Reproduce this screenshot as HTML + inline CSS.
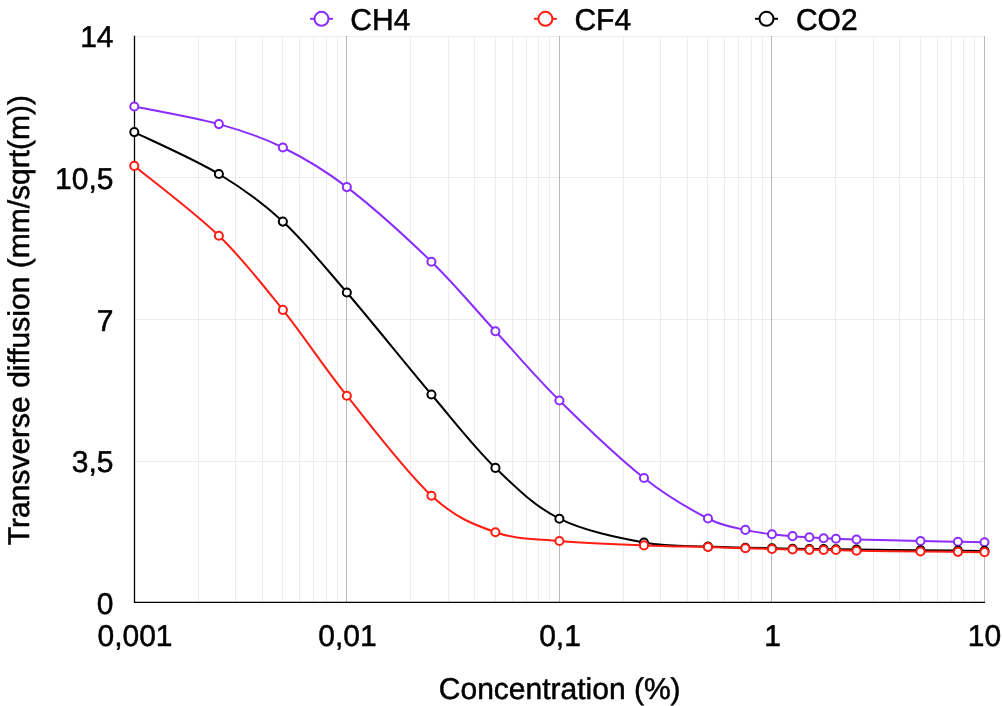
<!DOCTYPE html>
<html lang="en"><head><meta charset="utf-8"><title>Transverse diffusion vs concentration</title>
<style>html,body{margin:0;padding:0;background:#fff;}body{width:1002px;height:706px;overflow:hidden;}svg{display:block;will-change:transform;}text{font-family:"Liberation Sans",Arial,Helvetica,sans-serif;font-size:30px;fill:#000;stroke:#000;stroke-width:0.5px;text-rendering:geometricPrecision;}</style>
</head><body>
<svg width="1002" height="706" viewBox="0 0 1002 706">
<rect width="1002" height="706" fill="#fff"/>
<g shape-rendering="crispEdges">
<rect x="136" y="36" width="849" height="1" fill="#ececec"/>
<rect x="136" y="177" width="849" height="1" fill="#ececec"/>
<rect x="136" y="319" width="849" height="1" fill="#ececec"/>
<rect x="136" y="461" width="849" height="1" fill="#ececec"/>
<rect x="198" y="36" width="1" height="566" fill="#ececec"/>
<rect x="235" y="36" width="1" height="566" fill="#ececec"/>
<rect x="262" y="36" width="1" height="566" fill="#ececec"/>
<rect x="282" y="36" width="1" height="566" fill="#ececec"/>
<rect x="299" y="36" width="1" height="566" fill="#ececec"/>
<rect x="313" y="36" width="1" height="566" fill="#ececec"/>
<rect x="326" y="36" width="1" height="566" fill="#ececec"/>
<rect x="337" y="36" width="1" height="566" fill="#ececec"/>
<rect x="410" y="36" width="1" height="566" fill="#ececec"/>
<rect x="448" y="36" width="1" height="566" fill="#ececec"/>
<rect x="474" y="36" width="1" height="566" fill="#ececec"/>
<rect x="495" y="36" width="1" height="566" fill="#ececec"/>
<rect x="512" y="36" width="1" height="566" fill="#ececec"/>
<rect x="526" y="36" width="1" height="566" fill="#ececec"/>
<rect x="538" y="36" width="1" height="566" fill="#ececec"/>
<rect x="549" y="36" width="1" height="566" fill="#ececec"/>
<rect x="623" y="36" width="1" height="566" fill="#ececec"/>
<rect x="660" y="36" width="1" height="566" fill="#ececec"/>
<rect x="687" y="36" width="1" height="566" fill="#ececec"/>
<rect x="707" y="36" width="1" height="566" fill="#ececec"/>
<rect x="724" y="36" width="1" height="566" fill="#ececec"/>
<rect x="738" y="36" width="1" height="566" fill="#ececec"/>
<rect x="751" y="36" width="1" height="566" fill="#ececec"/>
<rect x="762" y="36" width="1" height="566" fill="#ececec"/>
<rect x="835" y="36" width="1" height="566" fill="#ececec"/>
<rect x="873" y="36" width="1" height="566" fill="#ececec"/>
<rect x="899" y="36" width="1" height="566" fill="#ececec"/>
<rect x="920" y="36" width="1" height="566" fill="#ececec"/>
<rect x="937" y="36" width="1" height="566" fill="#ececec"/>
<rect x="951" y="36" width="1" height="566" fill="#ececec"/>
<rect x="963" y="36" width="1" height="566" fill="#ececec"/>
<rect x="974" y="36" width="1" height="566" fill="#ececec"/>
<rect x="346" y="36" width="1" height="566" fill="#bababa"/>
<rect x="559" y="36" width="1" height="566" fill="#bababa"/>
<rect x="771" y="36" width="1" height="566" fill="#bababa"/>
<rect x="984" y="36" width="1" height="566" fill="#bababa"/>
</g>
<path d="M134.5,35.8 V602.35 H985" fill="none" stroke="#000" stroke-width="1.3" stroke-linejoin="miter"/>
<path d="M134.30,106.45 C148.40,109.39 194.12,117.26 218.88,124.10 C243.64,130.94 261.54,137.00 282.87,147.50 C304.19,158.00 322.09,168.07 346.85,187.10 C371.61,206.13 406.67,237.68 431.43,261.70 C456.19,285.72 474.09,308.07 495.42,331.20 C516.74,354.33 534.64,376.02 559.40,400.50 C584.16,424.98 619.22,458.38 643.98,478.05 C668.74,497.72 691.06,509.86 707.97,518.50 C724.87,527.14 734.73,527.27 745.39,529.90 C756.06,532.52 764.09,533.21 771.95,534.25 C779.81,535.29 786.31,535.64 792.55,536.15 C798.79,536.66 804.20,536.96 809.38,537.30 C814.55,537.64 819.18,537.97 823.61,538.20 C828.03,538.43 830.45,538.48 835.93,538.70 C841.42,538.92 842.44,539.12 856.53,539.50 C870.63,539.88 903.61,540.62 920.52,541.00 C937.42,541.38 947.28,541.60 957.94,541.80 C968.61,542.00 980.07,542.13 984.50,542.20" fill="none" stroke="#8b2cff" stroke-width="2" stroke-linejoin="round" stroke-linecap="round"/>
<g fill="#fff" stroke="#8b2cff" stroke-width="2">
<circle cx="134.30" cy="106.45" r="4.05"/>
<circle cx="218.88" cy="124.10" r="4.05"/>
<circle cx="282.87" cy="147.50" r="4.05"/>
<circle cx="346.85" cy="187.10" r="4.05"/>
<circle cx="431.43" cy="261.70" r="4.05"/>
<circle cx="495.42" cy="331.20" r="4.05"/>
<circle cx="559.40" cy="400.50" r="4.05"/>
<circle cx="643.98" cy="478.05" r="4.05"/>
<circle cx="707.97" cy="518.50" r="4.05"/>
<circle cx="745.39" cy="529.90" r="4.05"/>
<circle cx="771.95" cy="534.25" r="4.05"/>
<circle cx="792.55" cy="536.15" r="4.05"/>
<circle cx="809.38" cy="537.30" r="4.05"/>
<circle cx="823.61" cy="538.20" r="4.05"/>
<circle cx="835.93" cy="538.70" r="4.05"/>
<circle cx="856.53" cy="539.50" r="4.05"/>
<circle cx="920.52" cy="541.00" r="4.05"/>
<circle cx="957.94" cy="541.80" r="4.05"/>
<circle cx="984.50" cy="542.20" r="4.05"/>
</g>
<path d="M134.30,132.10 C148.40,139.08 194.12,159.08 218.88,174.00 C243.64,188.92 261.54,201.85 282.87,221.60 C304.19,241.35 322.09,263.68 346.85,292.50 C371.61,321.32 406.67,365.27 431.43,394.50 C456.19,423.73 474.09,447.20 495.42,467.90 C516.74,488.60 534.64,506.25 559.40,518.70 C584.16,531.15 619.22,537.95 643.98,542.60 C668.74,547.25 691.06,545.75 707.97,546.60 C724.87,547.45 734.73,547.42 745.39,547.70 C756.06,547.98 764.09,548.13 771.95,548.30 C779.81,548.47 786.31,548.58 792.55,548.70 C798.79,548.82 804.20,548.93 809.38,549.00 C814.55,549.07 819.18,549.07 823.61,549.10 C828.03,549.13 830.45,549.13 835.93,549.20 C841.42,549.27 842.44,549.32 856.53,549.50 C870.63,549.68 903.61,550.12 920.52,550.30 C937.42,550.48 947.28,550.50 957.94,550.60 C968.61,550.70 980.07,550.85 984.50,550.90" fill="none" stroke="#000000" stroke-width="2" stroke-linejoin="round" stroke-linecap="round"/>
<g fill="#fff" stroke="#000000" stroke-width="2">
<circle cx="134.30" cy="132.10" r="4.05"/>
<circle cx="218.88" cy="174.00" r="4.05"/>
<circle cx="282.87" cy="221.60" r="4.05"/>
<circle cx="346.85" cy="292.50" r="4.05"/>
<circle cx="431.43" cy="394.50" r="4.05"/>
<circle cx="495.42" cy="467.90" r="4.05"/>
<circle cx="559.40" cy="518.70" r="4.05"/>
<circle cx="643.98" cy="542.60" r="4.05"/>
<circle cx="707.97" cy="546.60" r="4.05"/>
<circle cx="745.39" cy="547.70" r="4.05"/>
<circle cx="771.95" cy="548.30" r="4.05"/>
<circle cx="792.55" cy="548.70" r="4.05"/>
<circle cx="809.38" cy="549.00" r="4.05"/>
<circle cx="823.61" cy="549.10" r="4.05"/>
<circle cx="835.93" cy="549.20" r="4.05"/>
<circle cx="856.53" cy="549.50" r="4.05"/>
<circle cx="920.52" cy="550.30" r="4.05"/>
<circle cx="957.94" cy="550.60" r="4.05"/>
<circle cx="984.50" cy="550.90" r="4.05"/>
</g>
<path d="M134.30,165.90 C148.40,177.55 194.12,211.80 218.88,235.80 C243.64,259.80 261.54,283.25 282.87,309.90 C304.19,336.55 322.09,364.73 346.85,395.70 C371.61,426.67 406.67,472.95 431.43,495.70 C456.19,518.45 474.09,524.65 495.42,532.20 C516.74,539.75 534.64,538.80 559.40,541.00 C584.16,543.20 619.22,544.41 643.98,545.40 C668.74,546.39 691.06,546.48 707.97,546.95 C724.87,547.43 734.73,547.90 745.39,548.25 C756.06,548.60 764.09,548.83 771.95,549.05 C779.81,549.27 786.31,549.42 792.55,549.55 C798.79,549.68 804.20,549.77 809.38,549.85 C814.55,549.93 819.18,550.02 823.61,550.05 C828.03,550.08 830.45,549.93 835.93,550.05 C841.42,550.17 842.44,550.50 856.53,550.75 C870.63,551.00 903.61,551.37 920.52,551.55 C937.42,551.73 947.28,551.75 957.94,551.85 C968.61,551.95 980.07,552.10 984.50,552.15" fill="none" stroke="#ff1d12" stroke-width="2" stroke-linejoin="round" stroke-linecap="round"/>
<g fill="#fff" stroke="#ff1d12" stroke-width="2">
<circle cx="134.30" cy="165.90" r="4.05"/>
<circle cx="218.88" cy="235.80" r="4.05"/>
<circle cx="282.87" cy="309.90" r="4.05"/>
<circle cx="346.85" cy="395.70" r="4.05"/>
<circle cx="431.43" cy="495.70" r="4.05"/>
<circle cx="495.42" cy="532.20" r="4.05"/>
<circle cx="559.40" cy="541.00" r="4.05"/>
<circle cx="643.98" cy="545.40" r="4.05"/>
<circle cx="707.97" cy="546.95" r="4.05"/>
<circle cx="745.39" cy="548.25" r="4.05"/>
<circle cx="771.95" cy="549.05" r="4.05"/>
<circle cx="792.55" cy="549.55" r="4.05"/>
<circle cx="809.38" cy="549.85" r="4.05"/>
<circle cx="823.61" cy="550.05" r="4.05"/>
<circle cx="835.93" cy="550.05" r="4.05"/>
<circle cx="856.53" cy="550.75" r="4.05"/>
<circle cx="920.52" cy="551.55" r="4.05"/>
<circle cx="957.94" cy="551.85" r="4.05"/>
<circle cx="984.50" cy="552.15" r="4.05"/>
</g>
<path d="M310.0,18.8 H333.0" stroke="#8b2cff" stroke-width="2" fill="none"/>
<circle cx="321.5" cy="18.8" r="7" fill="#fff" stroke="#8b2cff" stroke-width="2"/>
<text transform="translate(350.30,29.80) scale(1.0000,1)" text-anchor="start">CH4</text>
<path d="M533.9,18.8 H556.9" stroke="#ff1d12" stroke-width="2" fill="none"/>
<circle cx="545.4" cy="18.8" r="7" fill="#fff" stroke="#ff1d12" stroke-width="2"/>
<text transform="translate(574.40,29.80) scale(1.0000,1)" text-anchor="start">CF4</text>
<path d="M755.0,18.8 H778.0" stroke="#000000" stroke-width="2" fill="none"/>
<circle cx="766.5" cy="18.8" r="7" fill="#fff" stroke="#000000" stroke-width="2"/>
<text transform="translate(795.90,29.80) scale(1.0000,1)" text-anchor="start">CO2</text>
<text transform="translate(113.50,46.70) scale(1.0000,1)" text-anchor="end">14</text>
<text transform="translate(113.50,188.80) scale(1.0000,1)" text-anchor="end">10,5</text>
<text transform="translate(113.50,330.60) scale(1.0000,1)" text-anchor="end">7</text>
<text transform="translate(113.50,472.30) scale(1.0000,1)" text-anchor="end">3,5</text>
<text transform="translate(113.50,613.60) scale(1.0000,1)" text-anchor="end">0</text>
<text transform="translate(135.00,645.60) scale(1.0000,1)" text-anchor="middle">0,001</text>
<text transform="translate(347.50,645.60) scale(1.0000,1)" text-anchor="middle">0,01</text>
<text transform="translate(560.00,645.60) scale(1.0000,1)" text-anchor="middle">0,1</text>
<text transform="translate(772.60,645.60) scale(1.0000,1)" text-anchor="middle">1</text>
<text transform="translate(984.50,645.60) scale(1.0000,1)" text-anchor="middle">10</text>
<text transform="translate(559.70,698.60) scale(1.0000,1)" text-anchor="middle">Concentration (%)</text>
<text transform="translate(28.70,320.10) rotate(-90) scale(1.0000,1)" text-anchor="middle">Transverse diffusion (mm/sqrt(m))</text>
</svg></body></html>
